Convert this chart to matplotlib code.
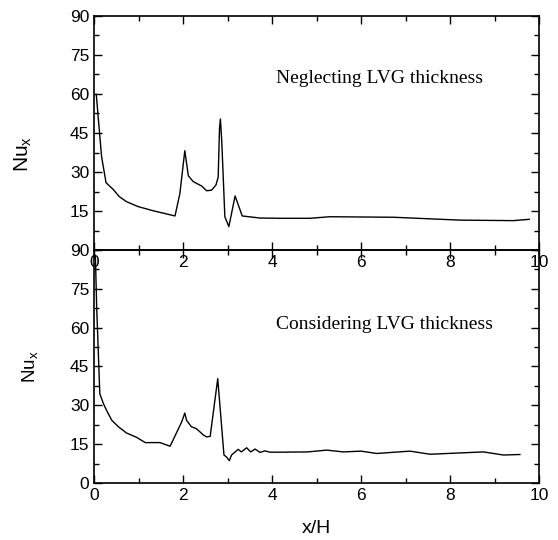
import matplotlib
matplotlib.use("Agg")
import matplotlib.pyplot as plt
from matplotlib.ticker import MultipleLocator

# Neglecting LVG thickness
x_top = [0.05, 0.17, 0.27, 0.43, 0.57, 0.73, 0.99, 1.33, 1.82, 1.93, 2.04, 2.12,
         2.23, 2.42, 2.53, 2.64, 2.74, 2.79, 2.82, 2.84, 2.87, 2.94, 3.03, 3.17,
         3.33, 3.73, 4.18, 4.85, 5.3, 6.73, 8.22, 9.42, 9.78]
nu_top = [59.9, 35.9, 25.9, 23.3, 20.5, 18.6, 16.7, 15.1, 13.1, 21.8, 38.2, 28.5,
          26.3, 24.6, 22.8, 23.0, 25.0, 28.0, 46.8, 50.4, 42.0, 12.8, 9.0, 20.8,
          13.1, 12.3, 12.2, 12.2, 12.8, 12.6, 11.5, 11.3, 11.8]

# Considering LVG thickness
x_bot = [0.03, 0.06, 0.13, 0.21, 0.28, 0.40, 0.55, 0.73, 0.96, 1.15, 1.48, 1.71,
         1.97, 2.04, 2.08, 2.19, 2.30, 2.46, 2.53, 2.61, 2.78, 2.92, 2.98, 3.04,
         3.09, 3.24, 3.31, 3.43, 3.52, 3.62, 3.73, 3.84, 3.95, 4.18, 4.8, 5.23,
         5.6, 6.0, 6.35, 7.1, 7.55, 8.75, 9.2, 9.57]
nu_bot = [88.0, 67.8, 34.5, 30.7, 28.1, 24.2, 21.7, 19.3, 17.6, 15.6, 15.6, 14.2,
          23.6, 27.0, 24.2, 21.7, 21.0, 18.5, 17.8, 18.0, 40.3, 10.8, 10.0, 8.6,
          10.8, 13.0, 12.0, 13.6, 12.0, 13.1, 11.8, 12.4, 11.9, 11.9, 12.0, 12.7,
          12.0, 12.3, 11.4, 12.3, 11.1, 12.0, 10.8, 11.0]

plt.rcParams['font.family'] = ['Liberation Sans', 'DejaVu Sans']

fig = plt.figure(figsize=(5.58, 5.4), dpi=100)
ax1 = fig.add_axes([0.1685, 0.537, 0.7975, 0.4334])
ax2 = fig.add_axes([0.1685, 0.1056, 0.7975, 0.4314])
ax2.set_facecolor('none')
ax1.set_zorder(3)
ax1.set_facecolor('none')

for ax, x, y, label, ty in [(ax1, x_top, nu_top, 'Neglecting LVG thickness', 65.8),
                            (ax2, x_bot, nu_bot, 'Considering LVG thickness', 61.2)]:
    ax.plot(x, y, color='black', lw=1.0)
    ax.set_xlim(0, 10)
    ax.set_ylim(0, 90)
    ax.xaxis.set_major_locator(MultipleLocator(2))
    ax.xaxis.set_minor_locator(MultipleLocator(1))
    ax.yaxis.set_major_locator(MultipleLocator(15))
    ax.yaxis.set_minor_locator(MultipleLocator(7.5))
    ax.tick_params(which='both', direction='in', top=True, right=True,
                   labelsize=12.5, width=1)
    ax.tick_params(which='major', length=6)
    ax.tick_params(which='minor', length=3.5)
    for s in ax.spines.values():
        s.set_linewidth(1.2)
    ax.text(4.1, ty, label, fontsize=14, family='Liberation Serif', va='center')

ax1.set_yticks([15, 30, 45, 60, 75, 90])
ax1.set_ylabel('Nu$_\\mathregular{x}$', fontsize=15)
ax1.yaxis.set_label_coords(-0.135, 0.41)
ax2.set_ylabel('Nu$_\\mathregular{x}$', fontsize=13.5)
ax2.yaxis.set_label_coords(-0.12, 0.5)
ax2.set_xlabel('x/H', fontsize=14, labelpad=12)

fig.savefig('out.png', dpi=100)
